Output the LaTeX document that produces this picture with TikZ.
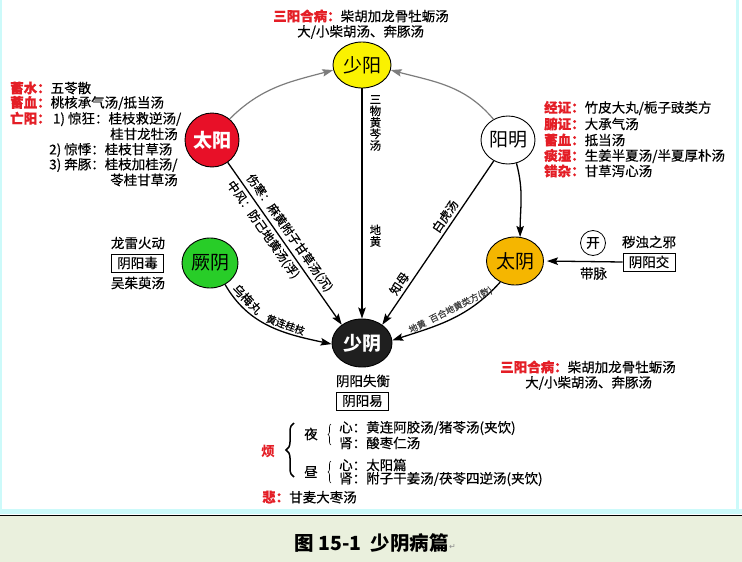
\documentclass[tikz,border=0pt]{standalone}
\usepackage{fontspec}
\setmainfont{Noto Sans CJK SC}
\newfontfamily\bodyf{Noto Sans CJK SC}[FakeBold=0.35]
\newfontfamily\djv{DejaVu Sans}
\usetikzlibrary{arrows.meta,shapes.geometric,decorations.pathreplacing}
\definecolor{redlab}{RGB}{228,30,38}
\definecolor{syyellow}{RGB}{250,242,0}
\definecolor{tyred}{RGB}{232,16,40}
\definecolor{tyorange}{RGB}{245,182,0}
\definecolor{jygreen}{RGB}{40,205,40}
\definecolor{arcgray}{RGB}{125,125,125}
\definecolor{capbg}{RGB}{234,240,221}
\definecolor{cyanline}{RGB}{204,250,250}
\newcommand\rl[1]{\textcolor{redlab}{\bfseries #1}}
\begin{document}
\begin{tikzpicture}[x=1pt,y=1pt,
  every node/.style={inner sep=0pt},
  body/.style={font=\bodyf\fontsize{13.5}{15}\selectfont, anchor=west},
  bodyc/.style={font=\bodyf\fontsize{13.5}{15}\selectfont},
  lab/.style={font=\bodyf\fontsize{12}{13}\selectfont},
  vstack/.style={font=\bodyf\fontsize{11.5}{11.5}\selectfont, align=center},
  circ/.style={ellipse, draw=black, line width=0.9pt, inner sep=0pt},
  big/.style={font=\fontsize{19}{19}\selectfont},
  bigb/.style={font=\fontsize{19}{19}\selectfont\bfseries},
  boxed/.style={draw=black, line width=0.8pt, fill=white, minimum width=52pt, minimum height=18pt, font=\bodyf\fontsize{13.5}{15}\selectfont},
  arr/.style={line width=1.3pt, -{Stealth[length=11pt,width=7.5pt,inset=2pt]}},
  garr/.style={draw=arcgray, line width=1.2pt, -{Stealth[length=11pt,width=7.5pt,inset=2pt]}},
  ]
% background
\path[use as bounding box, fill=white] (0,0) rectangle (742,-562);
\fill[cyanline] (0,0) rectangle (2,-509);
\fill[cyanline] (736,0) rectangle (739,-509);
\fill[cyanline] (0,-509) rectangle (742,-514);
\fill[capbg] (0,-515) rectangle (742,-562);
\draw[black, line width=1pt] (0,-515) -- (742,-515);

% main nodes
\node[circ, fill=syyellow, minimum width=58pt, minimum height=46pt, big] (shaoyang) at (362,-65) {少阳};
\node[circ, fill=tyred, minimum width=54pt, minimum height=54pt, bigb, text=white] (taiyang) at (212,-140) {太阳};
\node[circ, fill=white, minimum width=54pt, minimum height=48pt, big] (yangming) at (508,-140) {阳明};
\node[circ, fill=tyorange, minimum width=57pt, minimum height=48pt, big] (taiyin) at (515,-261) {太阴};
\node[circ, fill=jygreen, minimum width=56pt, minimum height=50pt, big] (jueyin) at (210,-263) {厥阴};
\node[circ, fill=black!88, minimum width=60pt, minimum height=48pt, bigb, text=white] (shaoyin) at (362,-343) {少阴};

% gray arcs to shaoyang
\draw[garr] (taiyang.50) to[out=45,in=195] (shaoyang.190);
\draw[garr] (yangming.125) to[out=130,in=-15] (shaoyang.-10);

% yangming -> taiyin
\draw[arr] (yangming.-70) to[out=-75,in=90] (taiyin.78);

% taiyang -> shaoyin
\draw[arr] (taiyang) -- (shaoyin.138)
  node[lab, pos=0.47, sloped, above=3pt] (shanghan) {伤寒：麻黄附子甘草汤(沉)}
  node[lab, pos=0.38, sloped, below=3pt] (zhongfeng) {中风：防己地黄汤(浮)};

% shaoyang -> shaoyin
\draw[arr] (shaoyang) -- (shaoyin)
  node[vstack, pos=0.15, right=7pt] (sanwu) {三\\物\\黄\\芩\\汤}
  node[vstack, pos=0.64, right=7pt] (dihuang) {地\\黄};

% yangming -> shaoyin
\draw[arr] (yangming) -- (shaoyin.42)
  node[lab, pos=0.37, sloped, above=3pt] (baihu) {白虎汤}
  node[lab, pos=0.78, sloped, above=3pt] (zhimu) {知母};

% taiyin -> shaoyin
\draw[arr] (taiyin.235) to[out=228,in=18]
  node[font=\bodyf\fontsize{9}{10}\selectfont, text=black!75, pos=0.47, sloped, above=3pt] (baihe) {地黄\hspace{5pt}百合地黄类方(数)}
  (shaoyin.5);

% jueyin -> shaoyin
\draw[arr] (jueyin.-55) to[out=-60,in=168]
  node[lab, pos=0.2, sloped, above=3pt] (wumei) {乌梅丸}
  node[font=\bodyf\fontsize{10}{11}\selectfont, pos=0.62, sloped, above=2pt] (huanglian) {黄连桂枝}
  (shaoyin.182);

% top text
\node[body] (t1) at (273,-16) {\rl{三阳合病：}柴胡加龙骨牡蛎汤};
\node[body] (t2) at (297,-32) {大/小柴胡汤、奔豚汤};

% left block
\node[body] (l1) at (10,-88) {\rl{蓄水：}五苓散};
\node[body] (l2) at (10,-103) {\rl{蓄血：}桃核承气汤/抵当汤};
\node[body] (l3) at (10,-119) {\rl{亡阳：}\,1) 惊狂：桂枝救逆汤/};
\node[body] (l4) at (110,-134) {桂甘龙牡汤};
\node[body] (l5) at (49,-150) {2) 惊悸：桂枝甘草汤};
\node[body] (l6) at (49,-165) {3) 奔豚：桂枝加桂汤/};
\node[body] (l7) at (110,-180) {苓桂甘草汤};

% right block
\node[body] (r1) at (544,-108) {\rl{经证：}竹皮大丸/栀子豉类方};
\node[body] (r2) at (544,-124) {\rl{腑证：}大承气汤};
\node[body] (r3) at (544,-140) {\rl{蓄血：}抵当汤};
\node[body] (r4) at (544,-156) {\rl{痰湿：}生姜半夏汤/半夏厚朴汤};
\node[body] (r5) at (544,-171) {\rl{错杂：}甘草泻心汤};

% jueyin side
\node[bodyc] (leilong) at (138,-243) {龙雷火动};
\node[boxed] (yyd) at (137.5,-263) {阴阳毒};
\node[bodyc] (wuzhu) at (138,-283) {吴茱萸汤};

% taiyin side
\node[draw=black, line width=0.8pt, circle, minimum size=25pt, bodyc] (kai) at (593,-243) {开};
\node[bodyc] (huizhuo) at (649,-242) {秽浊之邪};
\node[boxed] (yyj) at (649,-262) {阴阳交};
\draw[arr, shorten >=3pt] (yyj.west) -- (taiyin.east)
  node[bodyc, pos=0.37, below=5pt] (daimai) {带脉};

% bottom right
\node[body] (b1) at (500,-367) {\rl{三阳合病：}柴胡加龙骨牡蛎汤};
\node[body] (b2) at (525,-383) {大/小柴胡汤、奔豚汤};

% under shaoyin
\node[bodyc] (shiheng) at (363,-381) {阴阳失衡};
\node[boxed] (yyy) at (362.5,-401) {阴阳易};

% fan block
\node[text=redlab, font=\fontsize{13.5}{15}\selectfont\bfseries] (fan) at (268,-451) {烦};
\coordinate (bb1) at (294,-477);
\coordinate (bb2) at (294,-423);
\draw[decorate, decoration={brace, amplitude=8pt}, line width=1.5pt] (bb1) -- (bb2);
\node[bodyc] (ye) at (311,-434) {夜};
\coordinate (sb1) at (331,-445);
\coordinate (sb2) at (331,-424);
\draw[decorate, decoration={brace, amplitude=3pt}, line width=0.6pt] (sb1) -- (sb2);
\node[body] (y1) at (339,-428) {心：黄连阿胶汤/猪苓汤(夹饮)};
\node[body] (y2) at (339,-443) {肾：酸枣仁汤};
\node[bodyc] (zhou) at (311,-472) {昼};
\coordinate (sb3) at (331,-483);
\coordinate (sb4) at (331,-461);
\draw[decorate, decoration={brace, amplitude=3pt}, line width=0.6pt] (sb3) -- (sb4);
\node[body] (z1) at (339,-465) {心：太阳篇};
\node[body] (z2) at (339,-479) {肾：附子干姜汤/茯苓四逆汤(夹饮)};
\node[body] (bei) at (262,-497) {\rl{悲：}甘麦大枣汤};

% caption
\node[anchor=west, font=\fontsize{19.5}{20}\selectfont\bfseries] (cap) at (294,-543) {图\hspace{5pt}15-1\hspace{9pt}少阴病篇};
\node[anchor=west, text=black!45, font=\djv\fontsize{8}{8}\selectfont] (pm) at ([yshift=-4pt]cap.east) {↵};
\end{tikzpicture}
\end{document}
